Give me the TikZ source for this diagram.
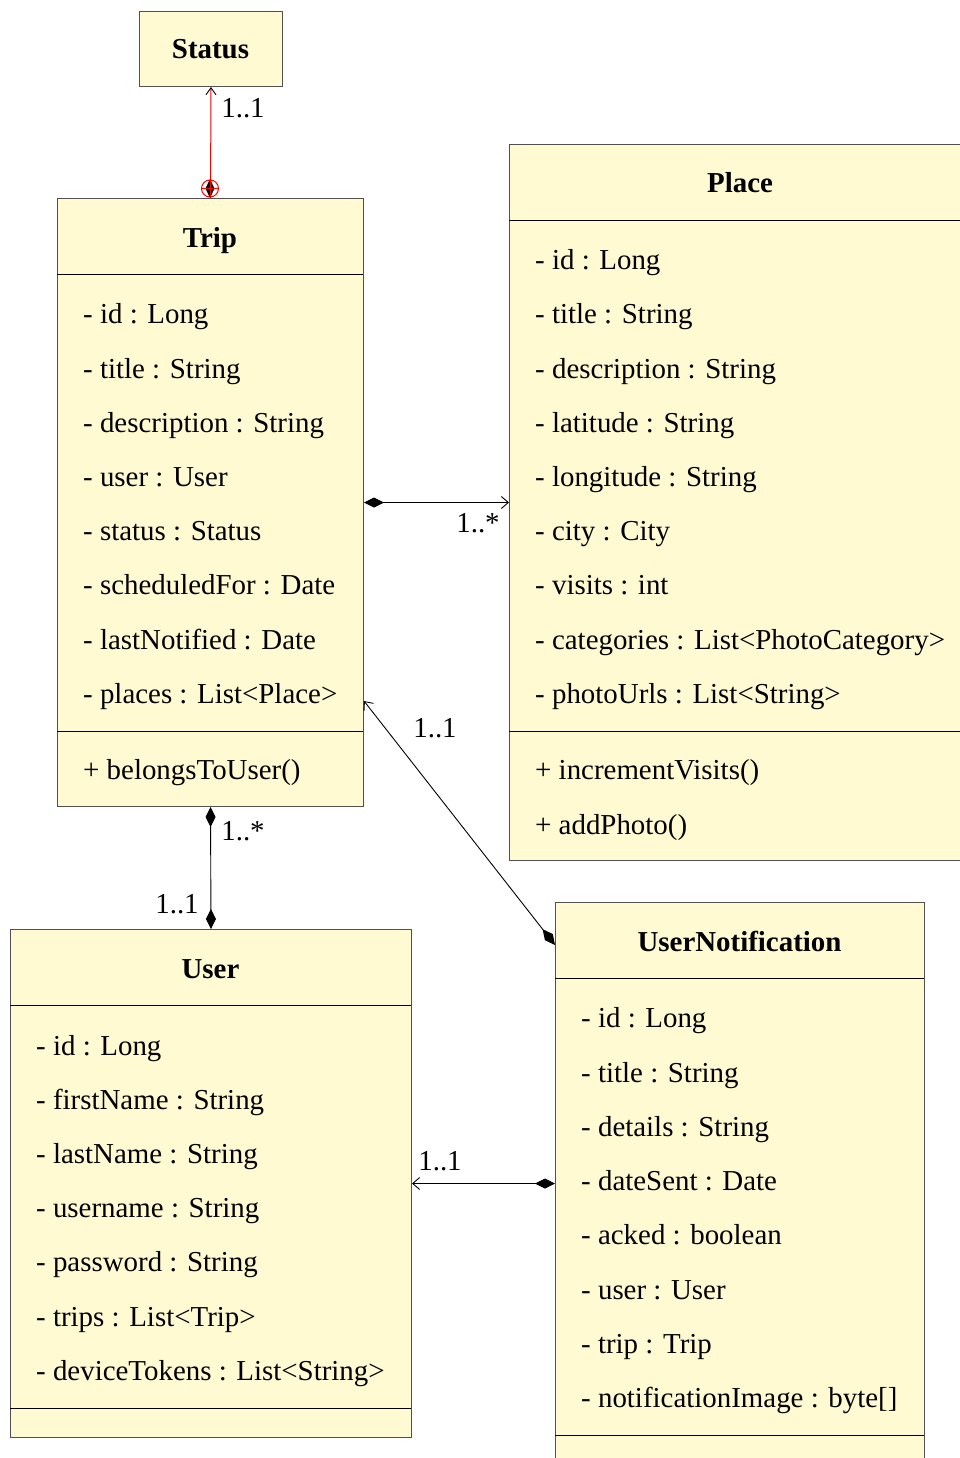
\documentclass[tikz,border=0pt]{standalone}
\usepackage{fontspec}
\setmainfont{Liberation Serif}
\usetikzlibrary{arrows.meta,calc}
\definecolor{classfill}{RGB}{255,250,210}
\definecolor{classdraw}{RGB}{80,80,80}
\begin{document}
\begin{tikzpicture}[x=1pt,y=-1pt,
  classbox/.style={draw=classdraw,fill=classfill,line width=1pt,anchor=north west,inner sep=0pt},
  sepline/.style={draw=black,line width=1pt},
  title/.style={font=\fontsize{28.9}{34}\selectfont\bfseries,anchor=base,inner sep=0pt},
  attr/.style={font=\fontsize{28.9}{34}\selectfont,anchor=base west,inner sep=0pt},
  mult/.style={font=\fontsize{28.9}{34}\selectfont,anchor=base,inner sep=0pt},
  assoc/.style={draw=black,line width=0.9pt},
  openhead/.tip={Straight Barb[length=7pt,width=12pt,line width=0.9pt]},
  comphead/.tip={Diamond[length=20pt,width=10pt]}
]
\useasboundingbox (0,0) rectangle (960,1458);
\clip (0,0) rectangle (960,1458);

% Status
\node[classbox,minimum width=143pt,minimum height=75pt] (status) at (139,11) {};
\node[title] (statusT) at (210.5,59) {Status};

% Trip
\node[classbox,minimum width=306pt,minimum height=608pt] (trip) at (57,198) {};
\node[title] (tripT) at (210,247) {Trip};
\draw[sepline] (57,274) -- (363,274);
\draw[sepline] (57,731) -- (363,731);
\node[attr] (t1) at (83,323) {- id : Long};
\node[attr] (t2) at (83,378) {- title : String};
\node[attr] (t3) at (83,432) {- description : String};
\node[attr] (t4) at (83,486) {- user : User};
\node[attr] (t5) at (83,540) {- status : Status};
\node[attr] (t6) at (83,594) {- scheduledFor : Date};
\node[attr] (t7) at (83,649) {- lastNotified : Date};
\node[attr] (t8) at (83,703) {- places : List<Place>};
\node[attr] (tm1) at (83,779) {+ belongsToUser()};

% Place
\node[classbox,minimum width=480pt,minimum height=716pt] (place) at (509,144) {};
\node[title] (placeT) at (740,193) {Place};
\draw[sepline] (509,220) -- (990,220);
\draw[sepline] (509,731) -- (990,731);
\node[attr] (p1) at (535,269) {- id : Long};
\node[attr] (p2) at (535,323) {- title : String};
\node[attr] (p3) at (535,378) {- description : String};
\node[attr] (p4) at (535,432) {- latitude : String};
\node[attr] (p5) at (535,486) {- longitude : String};
\node[attr] (p6) at (535,540) {- city : City};
\node[attr] (p7) at (535,594) {- visits : int};
\node[attr] (p8) at (535,649) {- categories : List<PhotoCategory>};
\node[attr] (p9) at (535,703) {- photoUrls : List<String>};
\node[attr] (pm1) at (535,779) {+ incrementVisits()};
\node[attr] (pm2) at (535,834) {+ addPhoto()};

% User
\node[classbox,minimum width=401pt,minimum height=508pt] (user) at (10,929) {};
\node[title] (userT) at (210.5,978) {User};
\draw[sepline] (10,1005) -- (411,1005);
\draw[sepline] (10,1408) -- (411,1408);
\node[attr] (u1) at (36,1055) {- id : Long};
\node[attr] (u2) at (36,1109) {- firstName : String};
\node[attr] (u3) at (36,1163) {- lastName : String};
\node[attr] (u4) at (36,1217) {- username : String};
\node[attr] (u5) at (36,1271) {- password : String};
\node[attr] (u6) at (36,1326) {- trips : List<Trip>};
\node[attr] (u7) at (36,1380) {- deviceTokens : List<String>};

% UserNotification
\node[classbox,minimum width=369pt,minimum height=600pt] (un) at (555,902) {};
\node[title] (unT) at (739.5,951) {UserNotification};
\draw[sepline] (555,978) -- (924,978);
\draw[sepline] (555,1435) -- (924,1435);
\node[attr] (n1) at (581,1027) {- id : Long};
\node[attr] (n2) at (581,1082) {- title : String};
\node[attr] (n3) at (581,1136) {- details : String};
\node[attr] (n4) at (581,1190) {- dateSent : Date};
\node[attr] (n5) at (581,1244) {- acked : boolean};
\node[attr] (n6) at (581,1299) {- user : User};
\node[attr] (n7) at (581,1353) {- trip : Trip};
\node[attr] (n8) at (581,1407) {- notificationImage : byte[]};

% Status -- Trip (red, nested)
\draw[draw=red,line width=1pt,-{Straight Barb[length=7pt,width=10pt,line width=0.9pt,color=black]}] (trip.north) -- (status.south);
\fill[black] (210,179) -- (214.5,188.5) -- (210,198) -- (205.5,188.5) -- cycle;
\coordinate (nest) at (210,188.5);
\draw[red,line width=1pt] (nest) circle (8.5pt);
\draw[red,line width=1pt] ($(nest)+(-8.5,0)$) -- ($(nest)+(8.5,0)$);
\draw[red,line width=1pt] ($(nest)+(0,-8.5)$) -- ($(nest)+(0,8.5)$);
\node[mult] (m0) at (243,118) {1..1};

% Trip -- Place
\draw[assoc,comphead-openhead] (trip.east) -- (place.west);
\node[mult] (m1) at (478,532) {1..*};

% Trip -- User
\draw[assoc,comphead-comphead] (trip.south) -- (user.north);
\node[mult] (m2) at (243,840) {1..*};
\node[mult] (m3) at (177,913) {1..1};

% UserNotification -- Trip
\coordinate (unA) at ($(un.north west)+(0,43)$);
\coordinate (tripA) at ($(trip.south east)+(0,-106)$);
\draw[assoc,comphead-openhead] (unA) -- (tripA);
\node[mult] (m4) at (435,737) {1..1};

% UserNotification -- User
\draw[assoc,comphead-openhead] (un.west |- user.east) -- (user.east);
\node[mult] (m5) at (440,1170) {1..1};
\end{tikzpicture}
\end{document}
